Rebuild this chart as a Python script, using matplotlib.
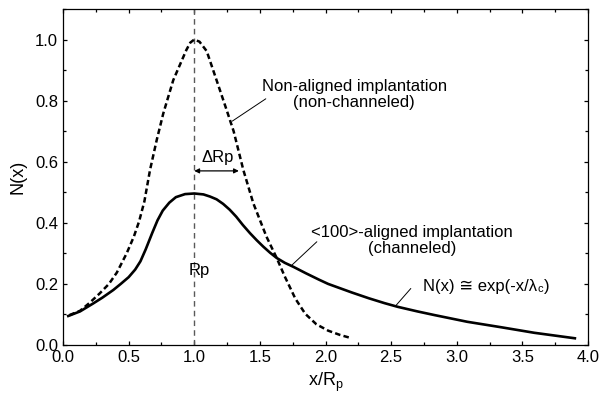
import matplotlib
matplotlib.use("Agg")
import matplotlib.pyplot as plt
from matplotlib.ticker import MultipleLocator

plt.rcParams['font.family'] = ['Liberation Sans', 'DejaVu Sans']
plt.rcParams['mathtext.fontset'] = 'custom'
plt.rcParams['mathtext.rm'] = 'Liberation Sans'
plt.rcParams['mathtext.it'] = 'Liberation Sans:italic'

# --- datos ---
# implantacion no alineada (linea discontinua)
x_nc = [0.05, 0.13, 0.20, 0.28, 0.35, 0.41, 0.485, 0.54, 0.58, 0.62, 0.663, 0.714,
        0.764, 0.84, 0.94, 0.97, 1.00, 1.04, 1.095, 1.17, 1.247, 1.30, 1.374, 1.45,
        1.55, 1.628, 1.69, 1.77, 1.846, 1.93, 2.02, 2.11, 2.20]
y_nc = [0.098, 0.112, 0.137, 0.169, 0.20, 0.237, 0.30, 0.355, 0.405, 0.47, 0.573, 0.671,
        0.758, 0.867, 0.966, 0.99, 1.000, 0.993, 0.962, 0.867, 0.769, 0.700, 0.573, 0.464,
        0.355, 0.285, 0.224, 0.152, 0.102, 0.068, 0.047, 0.033, 0.022]

# implantacion alineada <100> (linea continua)
x_ch = [0.04, 0.13, 0.23, 0.30, 0.383, 0.44, 0.50, 0.55, 0.59, 0.63, 0.68, 0.72,
        0.76, 0.81, 0.86, 0.93, 1.00, 1.07, 1.12, 1.17, 1.22, 1.27, 1.32, 1.37,
        1.425, 1.476, 1.526, 1.578, 1.628, 1.69, 1.755, 1.85, 1.95, 2.02, 2.20, 2.33,
        2.45, 2.55, 2.70, 2.83, 3.08, 3.34, 3.59, 3.90]
y_ch = [0.095, 0.110, 0.136, 0.155, 0.18, 0.20, 0.222, 0.247, 0.274, 0.313, 0.367, 0.408,
        0.440, 0.466, 0.484, 0.494, 0.496, 0.493, 0.486, 0.477, 0.462, 0.443, 0.42, 0.393,
        0.366, 0.343, 0.322, 0.302, 0.285, 0.269, 0.256, 0.235, 0.214, 0.20, 0.172, 0.153,
        0.137, 0.125, 0.11, 0.098, 0.076, 0.058, 0.04, 0.022]

rp = 1.0
drp = [1.0, 1.34]   # flecha de ΔRp
drp_y = 0.57

fig = plt.figure(figsize=(6.03, 3.99), dpi=100)
ax = fig.add_axes([63 / 603, 54 / 399, 525 / 603, 336 / 399])

ax.axvline(rp, color='0.35', lw=1.0, ls=(0, (4, 3)))
ax.plot(x_nc, y_nc, color='black', lw=1.8, ls=(0, (2.2, 1.3)), dash_joinstyle='round')
ax.plot(x_ch, y_ch, color='black', lw=1.9, solid_joinstyle='round')

# flecha ΔRp
ax.annotate('', xy=(drp[0], drp_y), xytext=(drp[1], drp_y),
            arrowprops=dict(arrowstyle='<|-|>', color='black', lw=0.9,
                            mutation_scale=7, shrinkA=0, shrinkB=0))
ax.text(1.18, 0.615, 'ΔRp', fontsize=12, ha='center', va='center')
ax.text(1.04, 0.245, 'Rp', fontsize=12, ha='center', va='center')

# etiquetas con linea guia
line_kw = dict(arrowstyle='-', color='black', lw=0.7, shrinkA=0, shrinkB=0)
ax.annotate('', xy=(1.29, 0.733), xytext=(1.545, 0.806), arrowprops=line_kw)
ax.text(2.22, 0.82, 'Non-aligned implantation\n(non-channeled)', fontsize=12,
        ha='center', va='center', multialignment='center', linespacing=1.05)

ax.annotate('', xy=(1.745, 0.262), xytext=(1.934, 0.338), arrowprops=line_kw)
ax.text(2.66, 0.343, '<100>-aligned implantation\n(channeled)', fontsize=12,
        ha='center', va='center', multialignment='center', linespacing=1.1)

ax.annotate('', xy=(2.54, 0.131), xytext=(2.65, 0.185), arrowprops=line_kw)
t1 = ax.text(2.743, 0.178, 'N(x) ≅ exp(-x/λ', fontsize=12, ha='left', va='baseline')
t2 = ax.annotate('c', xy=(1, 0), xycoords=t1, xytext=(0.3, -0.5),
                 textcoords='offset points', fontsize=8, ha='left', va='bottom')
ax.annotate(')', xy=(1, 0), xycoords=(t2, t1), xytext=(0.3, 0),
            textcoords='offset points', fontsize=12, ha='left', va='bottom')

ax.set_xlim(0, 4.0)
ax.set_ylim(0, 1.1)
ax.xaxis.set_major_locator(MultipleLocator(0.5))
ax.xaxis.set_minor_locator(MultipleLocator(0.25))
ax.yaxis.set_major_locator(MultipleLocator(0.2))
ax.yaxis.set_minor_locator(MultipleLocator(0.1))
ax.tick_params(which='both', direction='in', top=True, right=True, labelsize=12, width=0.9)
ax.tick_params(which='major', length=3.2, pad=3.5)
ax.tick_params(which='minor', length=2.2)
for s in ax.spines.values():
    s.set_linewidth(0.9)

ax.set_xlabel(r'x/R$_\mathrm{p}$', fontsize=13, labelpad=4)
ax.set_ylabel('N(x)', fontsize=13, labelpad=6)

fig.savefig('out.png', dpi=100)
